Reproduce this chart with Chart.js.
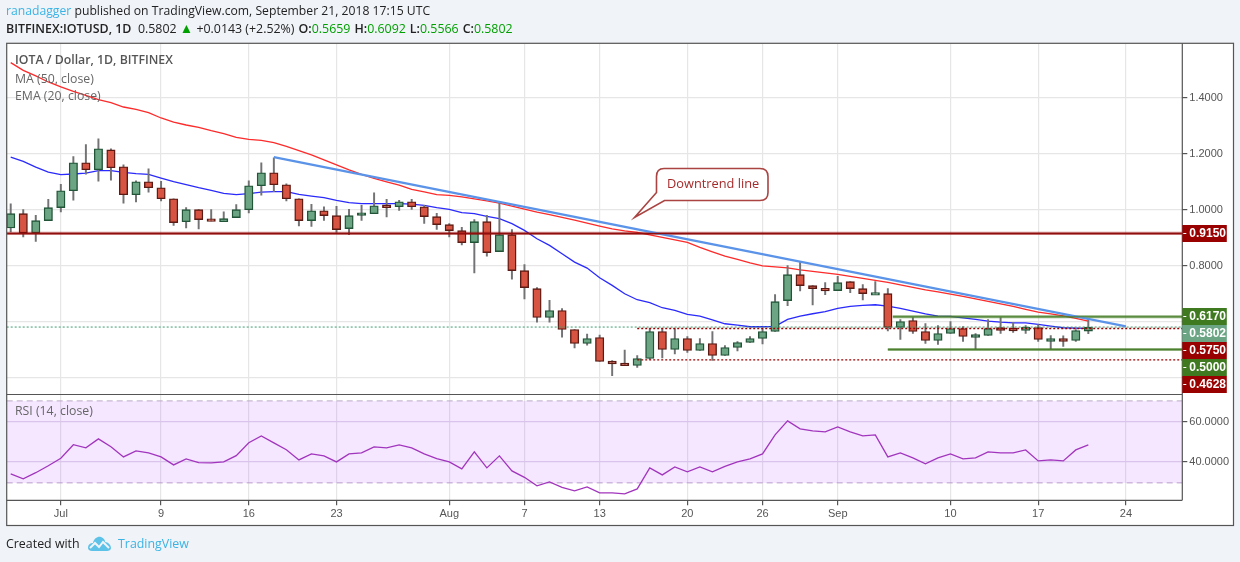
<!DOCTYPE html>
<html>
<head>
<meta charset="utf-8">
<title>IOTA / Dollar</title>
<script src="https://cdn.jsdelivr.net/npm/chart.js@4/dist/chart.umd.min.js"></script>
<style>
    html, body { margin: 0; padding: 0; background: #f0f3f8; }
    body { width: 1240px; height: 562px; position: relative; overflow: hidden; font-family: "Open Sans", sans-serif; }
    canvas { position: absolute; left: 0; top: 0; }
    .txt { position: absolute; white-space: nowrap; line-height: 16px; }
    #line1 { left: 6px; top: 3px; font-size: 12.2px; color: #222; }
    #line2 { left: 6px; top: 21px; font-size: 12.4px; color: #222; }
    #line2 b { font-weight: 600; margin-left: 0.8px; }
    #line2 i { font-style: normal; color: #00a000; }
    #line2 .up { color: #00a000; font-size: 13.5px; line-height: 12px; }
    .blue { color: #3bb3e4; }
    .leg { left: 15px; font-size: 12.3px; color: #666; }
    #created { left: 6px; top: 536px; font-size: 12.4px; color: #222; }
    #tvname { left: 118px; top: 536px; font-size: 12.4px; color: #3bb3e4; }
    #logo { position: absolute; left: 87px; top: 535px; }
</style>
</head>
<body>
<canvas id="chart" width="1240" height="562"></canvas>
<div class="txt" id="line1"><span class="blue">ranadagger</span> published on TradingView.com, September 21, 2018 17:15 UTC</div>
<div class="txt" id="line2"><b style="margin-left:0">BITFINEX:IOTUSD, 1D</b>&nbsp; 0.5802 <span class="up">▲</span> +0.0143 (+2.52%) <b>O:</b><i>0.5659</i> <b>H:</b><i>0.6092</i> <b>L:</b><i>0.5566</i> <b>C:</b><i>0.5802</i></div>
<div class="txt leg" style="top:52px;font-weight:600;color:#555">IOTA / Dollar, 1D, BITFINEX</div>
<div class="txt leg" style="top:71px">MA (50, close)</div>
<div class="txt leg" style="top:88px">EMA (20, close)</div>
<div class="txt leg" style="top:403px">RSI (14, close)</div>
<div class="txt" id="created">Created with</div>
<svg id="logo" width="25" height="18" viewBox="0 0 25 18">
    <path d="M1 13 C1 9 4 8 6 8 C7 3 11 1 14 2 C17 3 18 5 18 7 C21 7 24 10 24 13 C24 15 22 16 20 16 L5 16 C3 16 1 15 1 13 Z" fill="#5cc2e8"/>
    <path d="M3 13 L8 8 L12 12 L16 7 L22 13" fill="none" stroke="#f0f3f8" stroke-width="2"/>
</svg>
<div class="txt" id="tvname">TradingView</div>

<script>
// day numbers count from 1 Jul 2018, first candle is 27 Jun
const firstDay = -4;
const opens = [0.9345,0.9856,0.9166,0.9606,1.0071,1.0677,1.1677,1.1427,1.2141,1.1534,1.0535,1.0999,1.0784,1.0392,0.9570,0.9999,0.9642,0.9570,0.9714,0.9999,1.0856,1.1320,1.0891,1.0392,
    0.9606,0.9963,0.9785,0.9320,0.9820,0.9856,1.0141,1.0106,1.0284,1.0106,0.9749,0.9463,0.9249,0.8821,0.9570,0.8499,0.9106,0.7821,0.7178,0.6143,0.6393,0.5715,0.5215,0.5429,
    0.4571,0.4500,0.4429,0.4678,0.5642,0.5000,0.5392,0.4964,0.5214,0.4786,0.5071,0.5250,0.5392,0.5642,0.6749,0.7677,0.7285,0.7177,0.7106,0.7427,0.7177,0.6975,0.6999,
    0.5785,0.6035,0.5642,0.5321,0.5571,0.5749,0.5464,0.5500,0.5749,0.5726,0.5678,0.5785,0.5321,0.5357,0.5321,0.5659];
const highs = [1.0213,0.9999,0.9797,1.0368,1.0903,1.1903,1.2332,1.2534,1.2177,1.1606,1.1034,1.1463,1.1011,1.0392,1.0071,0.9999,0.9999,0.9927,1.0178,1.1034,1.1677,1.1856,1.0927,1.0392,
    1.0189,1.0106,1.0118,1.0011,1.0153,1.0606,1.0368,1.0332,1.0368,1.0153,0.9868,0.9499,0.9368,0.9642,0.9796,1.0261,0.9285,0.8035,0.7214,0.6762,0.6465,0.5715,0.5548,0.5512,
    0.4607,0.4976,0.4786,0.5749,0.5749,0.5749,0.5464,0.5392,0.5642,0.5142,0.5285,0.5464,0.5749,0.6963,0.7999,0.8141,0.7285,0.7392,0.7618,0.7427,0.7320,0.7427,0.7177,
    0.6071,0.6142,0.5928,0.5857,0.5999,0.5821,0.5571,0.6071,0.6142,0.5964,0.5857,0.5892,0.5500,0.5488,0.5714,0.6092];
const lows = [0.9202,0.9023,0.8869,0.9606,0.9916,1.0344,1.1272,1.1022,1.1058,1.0237,1.0273,1.0630,1.0309,0.9440,0.9345,0.9309,0.9594,0.9570,0.9714,0.9880,1.0523,1.0642,1.0309,0.9416,
    0.9404,0.9618,0.9190,0.9106,0.9618,0.9856,0.9737,0.9975,1.0011,0.9511,0.9297,0.9023,0.8737,0.7738,0.8333,0.8499,0.7512,0.6810,0.5977,0.5977,0.5441,0.5060,0.5155,0.4572,
    0.4060,0.4429,0.4357,0.4642,0.4702,0.4845,0.4893,0.4964,0.4607,0.4786,0.4952,0.5250,0.5202,0.5642,0.6570,0.7094,0.6594,0.6963,0.7106,0.7035,0.6773,0.6975,0.5666,
    0.5357,0.5571,0.5214,0.5178,0.5571,0.5285,0.5012,0.5500,0.5571,0.5607,0.5571,0.5285,0.5024,0.5107,0.5285,0.5566];
const closes = [0.9856,0.9166,0.9606,1.0071,1.0677,1.1677,1.1427,1.2177,1.1499,1.0535,1.0999,1.0784,1.0392,0.9535,0.9999,0.9642,0.9606,0.9678,0.9999,1.0856,1.1320,1.0891,1.0392,0.9606,
    0.9963,0.9785,0.9285,0.9785,0.9868,1.0141,1.0106,1.0284,1.0106,0.9749,0.9463,0.9249,0.8821,0.9570,0.8464,0.9106,0.7821,0.7214,0.6143,0.6393,0.5715,0.5215,0.5393,0.4572,
    0.4500,0.4429,0.4678,0.5642,0.5000,0.5392,0.4964,0.5214,0.4786,0.5071,0.5250,0.5392,0.5642,0.6713,0.7677,0.7285,0.7177,0.7106,0.7392,0.7177,0.6999,0.6999,0.5785,
    0.5999,0.5642,0.5321,0.5571,0.5749,0.5464,0.5500,0.5749,0.5714,0.5702,0.5797,0.5357,0.5357,0.5321,0.5678,0.5802];
const ma50 = [1.5259,1.4984,1.4782,1.4567,1.4388,1.4233,1.4090,1.3935,1.3827,1.3672,1.3589,1.3470,1.3279,1.3135,1.3028,1.2945,1.2826,1.2718,1.2587,1.2515,1.2480,1.2396,1.2265,1.2110,
    1.1961,1.1782,1.1603,1.1424,1.1263,1.1120,1.0995,1.0880,1.0726,1.0637,1.0537,1.0512,1.0458,1.0386,1.0315,1.0236,1.0129,1.0021,0.9914,0.9821,0.9725,0.9628,0.9521,0.9413,
    0.9313,0.9242,0.9188,0.9098,0.9009,0.8919,0.8830,0.8651,0.8490,0.8340,0.8222,0.8097,0.7989,0.7953,0.7918,0.7846,0.7792,0.7739,0.7685,0.7614,0.7542,0.7470,0.7399,
    0.7309,0.7220,0.7131,0.7059,0.6980,0.6898,0.6809,0.6719,0.6630,0.6540,0.6433,0.6336,0.6272,0.6200,0.6111,0.6014];
const ema20 = [1.1883,1.1728,1.1525,1.1346,1.1251,1.1275,1.1310,1.1394,1.1394,1.1334,1.1287,1.1263,1.1132,1.1000,1.0893,1.0786,1.0690,1.0583,1.0535,1.0571,1.0631,1.0643,1.0643,1.0547,
    1.0487,1.0428,1.0332,1.0249,1.0213,1.0213,1.0213,1.0213,1.0201,1.0154,1.0070,1.0010,0.9891,0.9855,0.9760,0.9677,0.9498,0.9259,0.8961,0.8722,0.8424,0.8126,0.7911,0.7566,
    0.7292,0.6994,0.6779,0.6672,0.6493,0.6397,0.6254,0.6195,0.6063,0.5920,0.5873,0.5813,0.5813,0.5825,0.6075,0.6195,0.6278,0.6350,0.6469,0.6540,0.6576,0.6600,0.6552,
    0.6468,0.6373,0.6277,0.6194,0.6182,0.6134,0.6075,0.6015,0.5979,0.5955,0.5955,0.5896,0.5836,0.5777,0.5765,0.5753];
const rsi14 = [34.0,31.5,34.6,38.1,41.8,48.6,47.0,51.5,47.6,42.5,45.5,44.5,42.5,38.5,41.5,39.6,39.5,40.0,43.1,49.6,53.0,49.5,46.1,41.0,
    44.0,43.0,40.0,44.0,44.5,47.5,47.0,48.5,47.0,44.0,41.6,40.0,36.5,45.0,37.0,43.0,35.5,32.3,28.0,30.0,27.3,25.5,27.5,24.5,
    24.5,24.0,26.5,37.0,33.5,37.5,35.0,37.5,35.0,37.8,40.0,41.5,44.0,53.5,60.5,56.5,55.5,55.0,57.5,55.0,53.0,53.5,42.5,
    44.5,42.0,39.0,42.0,44.0,41.5,42.0,45.0,44.5,44.5,46.0,40.5,41.0,40.5,46.0,48.5];

const tickDays = [0, 8, 15, 22, 31, 37, 43, 50, 56, 62, 71, 78, 85];
const tickLabels = ['Jul', '9', '16', '23', 'Aug', '7', '13', '20', '26', 'Sep', '10', '17', '24'];
const priceTicks = [1.4, 1.2, 1.0, 0.8, 0.6, 0.4];
const rsiTicks = [60, 40];
const rsiBand = [70.5, 29.5];

const resistance = 0.915;
const rangeTop = 0.617;
const rangeBottom = 0.5;
const lastPrice = 0.5802;
const dottedLevels = [0.575, 0.4628];
const trendDays = [17, 85];
const trendValues = [1.188, 0.5825];

const priceLabels = ['0.9150', '0.6170', '0.5802', '0.5750', '0.5000', '0.4628'];
const labelTops = [225, 308, 325, 342, 359, 376];
const labelColors = ['#990000', '#3f7a20', '#6ba583', '#990000', '#3f7a20', '#990000'];

const xMin = -4.32;
const xMax = 89.5;

const UP = '#6ba583', UP_EDGE = '#225437', DOWN = '#d75442', DOWN_EDGE = '#5b1a13';

const days = closes.map((c, i) => firstDay + i);

function series(values) {
    return values.map((v, i) => ({ x: days[i], y: v }));
}

// very small bodies would vanish, keep them at about the two edge strokes
function body(i) {
    const minBody = 0.0095;
    if (Math.abs(closes[i] - opens[i]) >= minBody) return [opens[i], closes[i]];
    const mid = (opens[i] + closes[i]) / 2;
    return [mid - minBody / 2, mid + minBody / 2];
}

function lineSet(yAxisID, data, color, width, order, extra) {
    return Object.assign({
        type: 'line', yAxisID: yAxisID, data: data, borderColor: color, borderWidth: width,
        pointRadius: 0, tension: 0, order: order, fill: false
    }, extra || {});
}

function level(from, to, y) {
    return [{ x: from, y: y }, { x: to, y: y }];
}

const datasets = [
    {
        type: 'bar', yAxisID: 'yPrice', grouped: false, order: 6, barThickness: 8.4,
        data: days.map((d, i) => ({ x: d, y: body(i) })),
        backgroundColor: ctx => closes[ctx.dataIndex] >= opens[ctx.dataIndex] ? UP : DOWN,
        borderColor: ctx => closes[ctx.dataIndex] >= opens[ctx.dataIndex] ? UP_EDGE : DOWN_EDGE,
        borderWidth: 1.4, borderSkipped: false
    },
    {
        type: 'bar', yAxisID: 'yPrice', grouped: false, order: 7, barThickness: 1.3,
        data: days.map((d, i) => ({ x: d, y: [lows[i], highs[i]] })),
        backgroundColor: '#737375', borderWidth: 0
    },
    lineSet('yPrice', series(ma50), '#ff2a2a', 1.3, 8),
    lineSet('yPrice', series(ema20), '#2a2aff', 1.3, 8),
    lineSet('yPrice', level(xMin, xMax, lastPrice), '#3a9c6a', 1, 4, { borderDash: [2, 2] }),
    lineSet('yPrice', level(46, xMax, dottedLevels[0]), '#990000', 1.4, 3, { borderDash: [2, 2] }),
    lineSet('yPrice', level(46, xMax, dottedLevels[1]), '#990000', 1.4, 3, { borderDash: [2, 2] }),
    lineSet('yPrice', level(xMin, xMax, resistance), 'rgba(153,0,0,0.45)', 3.2, 2),
    lineSet('yPrice', level(xMin, xMax, resistance), '#8f0f0f', 1.4, 1),
    lineSet('yPrice', level(66.4, xMax, rangeTop), 'rgba(63,122,32,0.6)', 3, 2),
    lineSet('yPrice', level(66.4, xMax, rangeTop), '#4c7f30', 1.2, 1),
    lineSet('yPrice', level(66, xMax, rangeBottom), 'rgba(63,122,32,0.6)', 3, 2),
    lineSet('yPrice', level(66, xMax, rangeBottom), '#4c7f30', 1.2, 1),
    lineSet('yPrice', [{ x: trendDays[0], y: trendValues[0] }, { x: trendDays[1], y: trendValues[1] }], '#5a93e8', 2.2, 1),
    // RSI band, the fill runs from the first line down to the next one
    lineSet('yRsi', level(xMin, xMax, rsiBand[0]), '#bca8c8', 1, 12, {
        borderDash: [6, 4], fill: '+1', backgroundColor: 'rgba(155,40,255,0.11)'
    }),
    lineSet('yRsi', level(xMin, xMax, rsiBand[1]), '#bca8c8', 1, 12, { borderDash: [6, 4] }),
    lineSet('yRsi', series(rsi14), '#a235bd', 1.3, 5)
];

const framePlugin = {
    id: 'frame',
    beforeDraw(chart) {
        const c = chart.ctx, a = chart.chartArea;
        c.save();
        c.fillStyle = '#fff';
        c.fillRect(a.left, a.top, 1233.5 - a.left, 525.5 - a.top);
        c.restore();
    },
    afterDraw(chart) {
        const c = chart.ctx, a = chart.chartArea;
        const yp = chart.scales.yPrice;
        c.save();

        // pane and axis borders
        c.strokeStyle = '#555';
        c.lineWidth = 1.2;
        c.strokeRect(a.left, a.top, 1233.5 - a.left, 525.5 - a.top);
        c.beginPath();
        c.moveTo(a.right, a.top);
        c.lineTo(a.right, a.bottom);
        c.moveTo(a.left, a.bottom);
        c.lineTo(a.right, a.bottom);
        c.moveTo(a.left, yp.bottom);
        c.lineTo(a.right, yp.bottom);
        c.stroke();

        // price labels are pushed apart so they do not overlap
        c.font = 'bold 12px "Liberation Sans", Arial, sans-serif';
        c.textBaseline = 'middle';
        priceLabels.forEach((txt, i) => {
            c.fillStyle = labelColors[i];
            c.fillRect(a.right, labelTops[i], 44.5, 17);
            c.fillStyle = '#fff';
            c.fillRect(a.right + 1, labelTops[i] + 8, 3, 1);
            c.fillText(txt, a.right + 7, labelTops[i] + 9);
        });

        // callout
        c.beginPath();
        c.moveTo(664, 168.5);
        c.lineTo(760, 168.5);
        c.quadraticCurveTo(768, 168.5, 768, 176.5);
        c.lineTo(768, 192.5);
        c.quadraticCurveTo(768, 200.5, 760, 200.5);
        c.lineTo(664.5, 200.5);
        c.lineTo(634.5, 217.5);
        c.lineTo(656.5, 192.5);
        c.lineTo(656.5, 176.5);
        c.quadraticCurveTo(656.5, 168.5, 664, 168.5);
        c.closePath();
        c.fillStyle = '#fff';
        c.fill();
        c.strokeStyle = '#a94442';
        c.lineWidth = 1.6;
        c.stroke();
        c.fillStyle = '#a52a2a';
        c.font = '12.8px "Open Sans", sans-serif';
        c.fillText('Downtrend line', 667, 184.5);
        c.restore();
    }
};

function fixedTicks(list) {
    return scale => { scale.ticks = list.map(v => ({ value: v })); };
}

const axisFont = { family: '"Liberation Sans", Arial, sans-serif', size: 11 };

new Chart(document.getElementById('chart'), {
    type: 'bar',
    data: { datasets: datasets },
    plugins: [framePlugin],
    options: {
        responsive: false,
        animation: false,
        events: [],
        layout: { padding: { left: 6.7, top: 43.3, right: 6.5, bottom: 36.7 } },
        plugins: { legend: { display: false }, tooltip: { enabled: false } },
        scales: {
            x: {
                type: 'linear', min: xMin, max: xMax, offset: false,
                afterBuildTicks: fixedTicks(tickDays),
                afterFit: s => { s.height = 25; },
                border: { display: false },
                grid: { offset: false, color: '#e6e6e6', lineWidth: 1.2, tickColor: '#555', tickLength: 5 },
                ticks: {
                    autoSkip: false, maxRotation: 0, color: '#555', font: axisFont, padding: 2,
                    callback: v => tickLabels[tickDays.indexOf(v)]
                }
            },
            yPrice: {
                position: 'right', stack: 'panes', stackWeight: 351.2,
                min: 0.339, max: 1.595,
                afterBuildTicks: fixedTicks(priceTicks),
                afterFit: s => { s.width = 51.2; },
                border: { display: false },
                grid: { color: '#e6e6e6', lineWidth: 1.2, tickColor: '#555', tickLength: 5 },
                ticks: { color: '#555', font: axisFont, padding: 2, callback: v => v.toFixed(4) }
            },
            yRsi: {
                position: 'right', stack: 'panes', stackWeight: 105.8,
                min: 20.8, max: 73.7,
                afterBuildTicks: fixedTicks(rsiTicks),
                afterFit: s => { s.width = 51.2; },
                border: { display: false },
                grid: { color: '#e2d8ea', lineWidth: 1.2, tickColor: '#555', tickLength: 5 },
                ticks: { color: '#555', font: axisFont, padding: 2, callback: v => v.toFixed(4) }
            }
        }
    }
});
</script>
</body>
</html>
